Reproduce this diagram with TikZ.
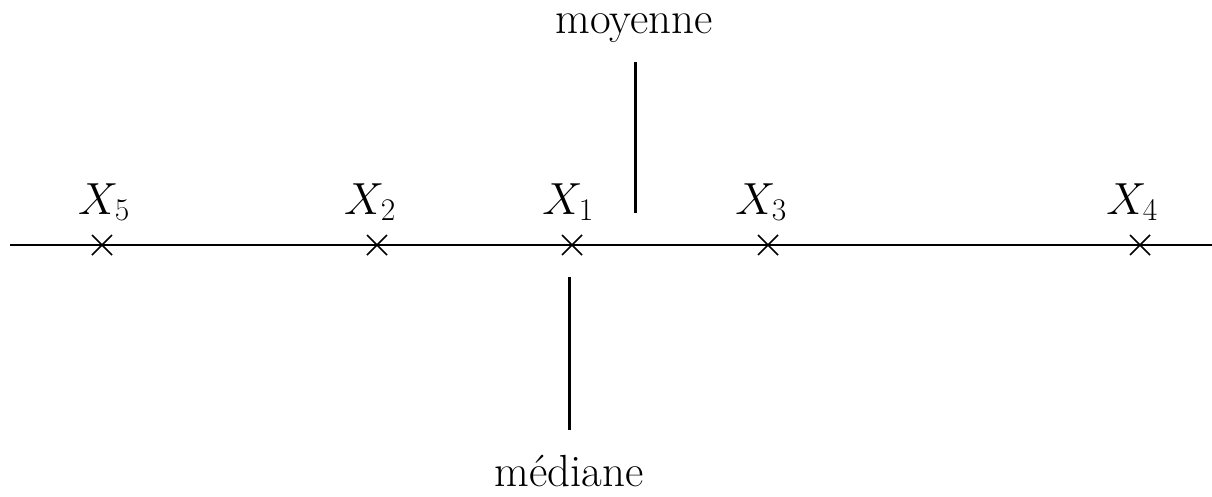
\RequirePackage{fix-cm}
\documentclass[tikz,border=0pt]{standalone}
\usepackage{fontspec}
\tikzset{
  axisline/.style={line width=2pt},
  markline/.style={line width=3pt},
  crossmark/.style={line width=1.6pt},
  lbl/.style={font=\fontsize{45}{54}\selectfont, anchor=base, inner sep=0pt},
}
\begin{document}
\begin{tikzpicture}[x=1pt,y=-1pt]
\useasboundingbox (0,0) rectangle (1212,496);
% axis
\coordinate (L) at (10,245);
\coordinate (R) at (1212,245);
\draw[axisline] (L) -- (R);
% crosses and labels
\foreach \n/\x/\lx/\s in {p5/102/104/5, p2/377/370/2, p1/572/568/1, p3/768/761/3, p4/1140/1132/4}{
  \coordinate (\n) at (\x,245);
  \draw[crossmark] ([shift={(-10,-10)}]\n) -- ([shift={(10,10)}]\n);
  \draw[crossmark] ([shift={(-10,10)}]\n) -- ([shift={(10,-10)}]\n);
  \node[lbl] (t\n) at (\lx,214) {$X_{\s}$};
}
% moyenne
\coordinate (m1) at (635,62);
\coordinate (m2) at (635,213);
\draw[markline] (m1) -- (m2);
\node[lbl] (moy) at (634,33) {moyenne};
% mediane
\coordinate (d1) at (569,277);
\coordinate (d2) at (569,430);
\draw[markline] (d1) -- (d2);
\node[lbl] (med) at (569,486) {médiane};
\end{tikzpicture}
\end{document}
